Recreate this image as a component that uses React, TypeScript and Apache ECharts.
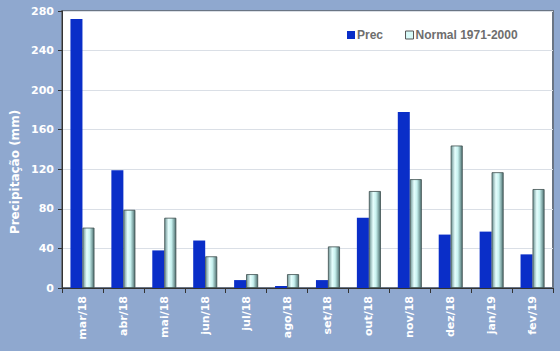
import React, { useEffect, useRef } from "react";
import * as echarts from "echarts";

const categories = ["mar/18", "abr/18", "mai/18", "jun/18", "jul/18", "ago/18", "set/18", "out/18", "nov/18", "dez/18", "jan/19", "fev/19"];
const precValues = [272, 119, 38, 48, 8, 2, 8, 71, 178, 54, 57, 34];
const normalValues = [61, 79, 71, 32, 14, 14, 42, 98, 110, 144, 117, 100];
const yTicks = { min: 0, max: 280, interval: 40 };

export default function App() {
  const ref = useRef<HTMLDivElement>(null);
  useEffect(() => {
    if (!ref.current) return;
    const chart = echarts.init(ref.current, null, { renderer: "svg" });
    const font = "DejaVu Sans";
    chart.setOption({
      animation: false,
      backgroundColor: "#8FA8CF",
      grid: {
        left: 62,
        right: 7,
        top: 11,
        bottom: 63,
        show: true,
        backgroundColor: "#FFFFFF",
        borderColor: "#6A7584",
        borderWidth: 2,
      },
      legend: {
        top: 24,
        left: 342,
        itemWidth: 8,
        itemHeight: 8,
        itemGap: 22,
        icon: "rect",
        textStyle: { color: "#6E6E6E", fontFamily: "Liberation Sans", fontWeight: "bold", fontSize: 12, padding: [0, 0, 0, -3] },
        data: [
          { name: "Prec", itemStyle: { color: "#0A2EC8" } },
          { name: "Normal 1971-2000", itemStyle: { color: "#D8FAF8", borderColor: "#555", borderWidth: 1 } },
        ],
      },
      xAxis: {
        type: "category",
        data: categories,
        axisLine: { lineStyle: { color: "#333", width: 1 } },
        axisTick: { show: true, alignWithLabel: false, length: 5, lineStyle: { color: "#333" } },
        axisLabel: { rotate: 90, color: "#FFFFFF", fontFamily: font, fontWeight: "bold", fontSize: 11, margin: 8, interval: 0 },
        splitLine: { show: false },
      },
      yAxis: {
        type: "value",
        min: yTicks.min,
        max: yTicks.max,
        interval: yTicks.interval,
        axisLine: { show: true, lineStyle: { color: "#333", width: 1 } },
        axisTick: { show: true, length: 4, lineStyle: { color: "#333" } },
        axisLabel: { color: "#FFFFFF", fontFamily: font, fontWeight: "bold", fontSize: 11, margin: 8 },
        splitLine: { show: true, lineStyle: { color: "#DADFE6", width: 1 } },
      },
      graphic: [
        {
          type: "text",
          x: 15,
          y: 172,
          rotation: Math.PI / 2,
          style: {
            text: "Precipitação (mm)",
            fill: "#FFFFFF",
            font: "bold 12px 'DejaVu Sans'",
            align: "center",
            verticalAlign: "middle",
          },
        },
      ],
      series: [
        {
          name: "Prec",
          type: "bar",
          data: precValues,
          barWidth: 12,
          barGap: "0%",
          itemStyle: { color: "#0A2EC8" },
        },
        {
          name: "Normal 1971-2000",
          type: "bar",
          data: normalValues,
          barWidth: 12,
          barGap: "0%",
          itemStyle: {
            color: new echarts.graphic.LinearGradient(0, 0, 1, 0, [
              { offset: 0, color: "#6F9494" },
              { offset: 0.35, color: "#E6FFFE" },
              { offset: 0.6, color: "#C8F2F0" },
              { offset: 1, color: "#4E7070" },
            ]),
            borderColor: "#3E4E4E",
            borderWidth: 0.8,
          },
        },
      ],
    });
    return () => chart.dispose();
  }, []);
  return <div ref={ref} style={{ width: 560, height: 351, position: "absolute", left: 0, top: 0 }} />;
}
